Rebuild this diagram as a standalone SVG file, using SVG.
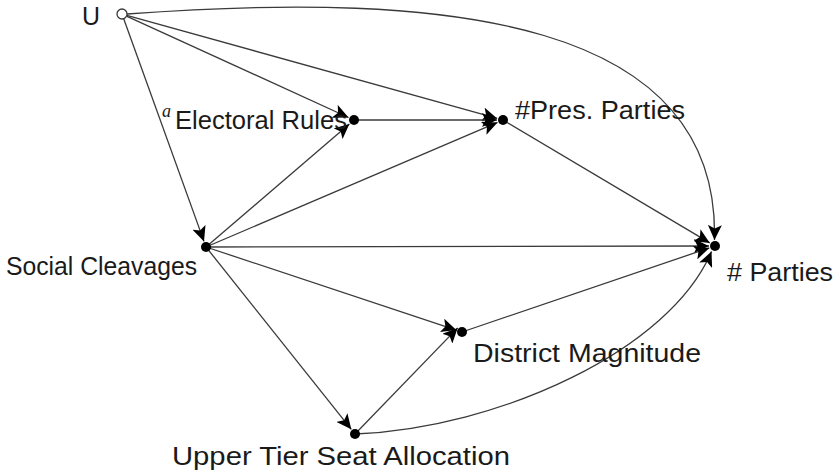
<svg xmlns="http://www.w3.org/2000/svg" width="838" height="475" viewBox="0 0 838 475">
<style>
.e{fill:none;stroke:#3a3a3a;stroke-width:1.3;marker-end:url(#ah)}
.lbl{font-family:"Liberation Sans","DejaVu Sans",sans-serif;font-size:26px;fill:#1a1a1a}
.sup{font-family:"Liberation Serif",serif;font-style:italic;font-size:18px;fill:#1a1a1a}
.dot{fill:#000}
</style>
<defs>
<marker id="ah" markerUnits="userSpaceOnUse" markerWidth="16" markerHeight="14" refX="15" refY="7" orient="auto">
<path d="M0,0 L15,7 L0,14 L3.5,7 z" fill="#000"/>
</marker>
</defs>
<rect width="838" height="475" fill="#fff"/>
<g id="connectors">
<line class="e" x1="126.5" y1="16.1" x2="348.5" y2="117.5"/>
<line class="e" x1="126.8" y1="15.3" x2="497.2" y2="118.4"/>
<line class="e" x1="123.7" y1="18.7" x2="204" y2="241.4"/>
<path class="e" d="M127,14 C450,-10 720,20 714.5,240"/>
<line class="e" x1="354" y1="120" x2="497" y2="120"/>
<line class="e" x1="206" y1="247" x2="349.4" y2="123.9"/>
<line class="e" x1="206" y1="247" x2="497.5" y2="122.4"/>
<line class="e" x1="206" y1="247" x2="709" y2="246"/>
<line class="e" x1="206" y1="247" x2="456.3" y2="330.1"/>
<line class="e" x1="206" y1="247" x2="351.3" y2="429.3"/>
<line class="e" x1="503" y1="120" x2="709.8" y2="242.9"/>
<line class="e" x1="462" y1="332" x2="709.3" y2="247.9"/>
<line class="e" x1="355" y1="434" x2="457.7" y2="327.9"/>
<path class="e" d="M355,434 C500,428 670,350 711.5,251.5"/>
</g>
<g id="U">
<circle cx="122" cy="14" r="5" fill="#fff" stroke="#3a3a3a" stroke-width="1.3"/>
<text class="lbl" x="82" y="25" textLength="18" lengthAdjust="spacingAndGlyphs">U</text>
</g>
<g id="electoral-rules">
<circle class="dot" cx="354" cy="120" r="5"/>
<text class="sup" x="162" y="117">a</text>
<text class="lbl" x="175" y="129" textLength="172" lengthAdjust="spacingAndGlyphs">Electoral Rules</text>
</g>
<g id="pres-parties">
<circle class="dot" cx="503" cy="120" r="5"/>
<text class="lbl" x="515" y="119" textLength="170" lengthAdjust="spacingAndGlyphs">#Pres.  Parties</text>
</g>
<g id="parties">
<circle class="dot" cx="715" cy="246" r="5"/>
<text class="lbl" x="727" y="281" textLength="106" lengthAdjust="spacingAndGlyphs"># Parties</text>
</g>
<g id="social-cleavages">
<circle class="dot" cx="206" cy="247" r="5"/>
<text class="lbl" x="6" y="275" textLength="191" lengthAdjust="spacingAndGlyphs">Social Cleavages</text>
</g>
<g id="district-magnitude">
<circle class="dot" cx="462" cy="332" r="5"/>
<text class="lbl" x="473" y="362" textLength="228" lengthAdjust="spacingAndGlyphs">District Magnitude</text>
</g>
<g id="upper-tier">
<circle class="dot" cx="355" cy="434" r="5"/>
<text class="lbl" x="172" y="465" textLength="338" lengthAdjust="spacingAndGlyphs">Upper Tier Seat Allocation</text>
</g>
</svg>
